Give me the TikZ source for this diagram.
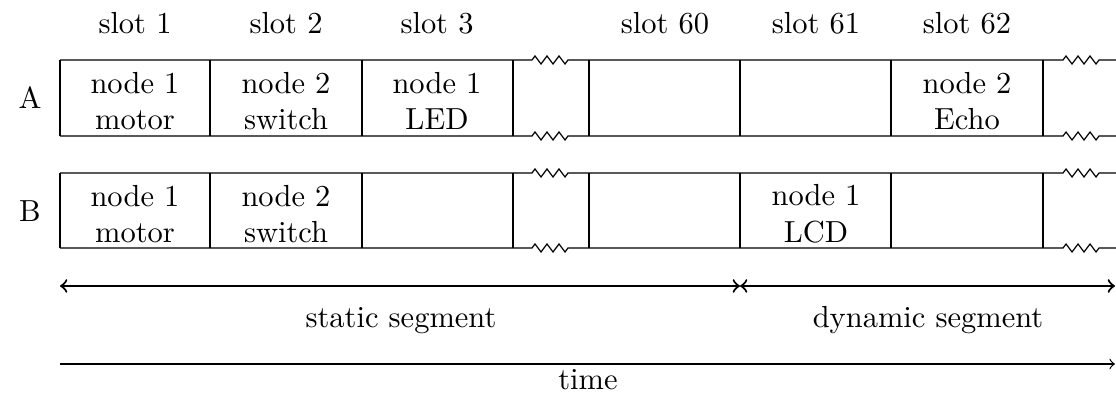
\documentclass[tikz,border=0pt]{standalone}
\begin{document}
\begin{tikzpicture}[x=0.328pt,y=-0.328pt,
  lbl/.style={inner sep=0pt,anchor=base},
  cell/.style={inner sep=0pt,align=center},
  frame/.style={line width=0.4pt},
  segarrow/.style={<->,line width=0.7pt},
  every node/.style={font=\normalsize}]
\useasboundingbox (0,0) rectangle (1116,396);
% slot headers
\node[lbl] (h1) at (135,34) {slot 1};
\node[lbl] (h2) at (286,34) {slot 2};
\node[lbl] (h3) at (437,34) {slot 3};
\node[lbl] (h60) at (665,34) {slot 60};
\node[lbl] (h61) at (816,34) {slot 61};
\node[lbl] (h62) at (967,34) {slot 62};
% row labels
\node[inner sep=0pt] (rA) at (30,98) {A};
\node[inner sep=0pt] (rB) at (30,211) {B};
% horizontal lines with break marks
\foreach \yy in {60,136,173,248}{
  \draw[frame] (60,\yy) -- (532,\yy) -- ++(3,-4) -- ++(6,8) -- ++(6,-8) -- ++(6,8) -- ++(6,-8) -- ++(6,8) -- ++(3,-4)
     -- (1063,\yy) -- ++(3,-4) -- ++(6,8) -- ++(6,-8) -- ++(6,8) -- ++(6,-8) -- ++(6,8) -- ++(3,-4) -- (1116,\yy);
}
% vertical separators
\foreach \xx in {60,210,362,513,589,740,891,1043}{
  \draw[frame] (\xx,60) -- (\xx,136);
  \draw[frame] (\xx,173) -- (\xx,248);
}
% row A cells
\node[cell] (a1) at (135,101) {node 1\\motor};
\node[cell] (a2) at (286,101) {node 2\\switch};
\node[cell] (a3) at (437,101) {node 1\\LED};
\node[cell] (a62) at (967,101) {node 2\\Echo};
% row B cells
\node[cell] (b1) at (135,214) {node 1\\motor};
\node[cell] (b2) at (286,214) {node 2\\switch};
\node[cell] (b61) at (816,214) {node 1\\LCD};
% segment arrows
\coordinate (s0) at (60,286);
\coordinate (s1) at (740,286);
\coordinate (s2) at (1115,286);
\draw[segarrow] (s0) -- (s1);
\draw[segarrow] (s1) -- (s2);
\node[lbl] (st) at (401,328) {static segment};
\node[lbl] (dy) at (928,328) {dynamic segment};
% time arrow
\coordinate (t0) at (60,364);
\coordinate (t1) at (1115,364);
\draw[->] (t0) -- (t1);
\node[lbl] (tm) at (588,390) {time};
\end{tikzpicture}
\end{document}
